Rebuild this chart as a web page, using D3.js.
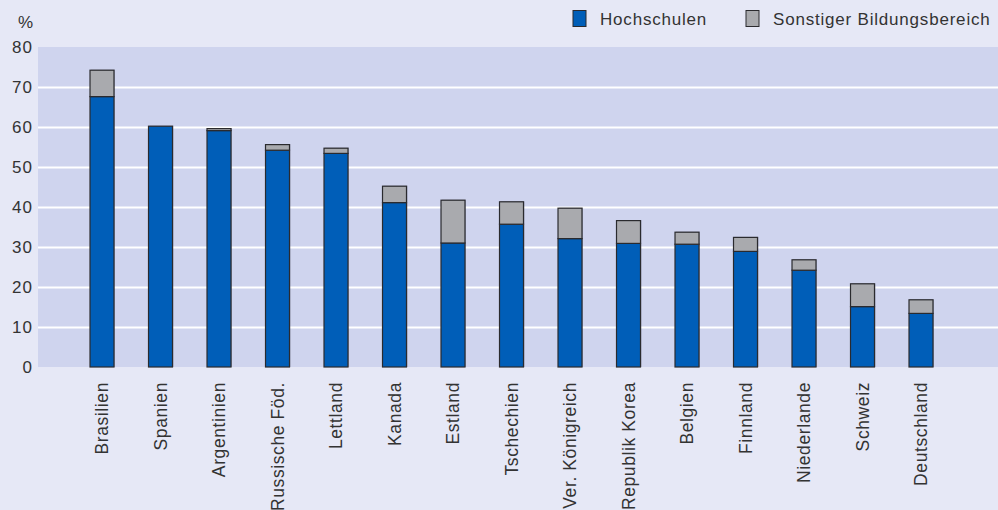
<!DOCTYPE html>
<html><head><meta charset="utf-8">
<script src="https://cdn.jsdelivr.net/npm/d3@7"></script>
<style>
html,body{margin:0;padding:0;background:#e6e8f6;}
svg{display:block;}
text{font-family:"Liberation Sans",Arial,sans-serif;fill:#333;}
</style></head>
<body>
<svg id="chart" width="998" height="510"></svg>
<script>
const categories = ["Brasilien","Spanien","Argentinien","Russische Föd.","Lettland","Kanada","Estland","Tschechien","Ver. Königreich","Republik Korea","Belgien","Finnland","Niederlande","Schweiz","Deutschland"];
const hochschulen = [67.6,60.2,59.1,54.2,53.4,41.1,31.0,35.7,32.1,30.9,30.7,28.9,24.2,15.1,13.4];
const sonstige = [6.6,0,0.5,1.4,1.3,4.1,10.7,5.6,7.6,5.7,3.0,3.5,2.6,5.7,3.4];
const yTicks = [0,10,20,30,40,50,60,70,80];
const seriesNames = ["Hochschulen","Sonstiger Bildungsbereich"];
const seriesColors = ["#005eb8","#a9aaae"];

const svg = d3.select("#chart");
const W = 998, H = 510;
const plot = {left:38, right:998, top:47, bottom:367};

svg.append("rect").attr("width",W).attr("height",H).attr("fill","#e6e8f6");
svg.append("rect").attr("x",plot.left).attr("y",plot.top)
  .attr("width",plot.right-plot.left).attr("height",plot.bottom-plot.top).attr("fill","#cfd4ee");

const y = d3.scaleLinear().domain([0,80]).range([plot.bottom, plot.top]);
const x = d3.scaleBand().domain(categories).range([72.75,950.25]).paddingInner(0.59).paddingOuter(0.295);

// gridlines
svg.append("g").selectAll("line").data(yTicks.filter(t=>t>0 && t<80)).join("line")
  .attr("x1",plot.left).attr("x2",plot.right)
  .attr("y1",d=>y(d)+0.5).attr("y2",d=>y(d)+0.5)
  .attr("stroke","#fff").attr("stroke-width",2);

// y axis
const yAxis = d3.axisLeft(y).tickValues(yTicks).tickSize(0).tickPadding(5);
const gy = svg.append("g").attr("transform",`translate(${plot.left},0)`).call(yAxis);
gy.select(".domain").remove();
gy.selectAll("text").attr("font-size",17).attr("letter-spacing","1px")
  .style("font-family","'Liberation Sans',Arial,sans-serif").attr("fill","#333").attr("dy","0.35em");

svg.append("text").attr("x",33).attr("y",28).attr("text-anchor","end").attr("font-size",17).text("%");

// stacked data
const data = categories.map((c,i)=>({cat:c, h:hochschulen[i], s:sonstige[i]}));
const stack = d3.stack().keys(["h","s"])(data);

const bars = svg.append("g");
// shadow
bars.selectAll("rect.shadow").data(data).join("rect").attr("class","shadow")
  .attr("x",d=>x(d.cat)+1).attr("y",d=>y(d.h+d.s)-0.5)
  .attr("width",x.bandwidth()).attr("height",d=>y(0)-y(d.h+d.s)+0.5)
  .attr("fill","rgba(60,60,80,0.3)");
stack.forEach((layer,li)=>{
  bars.append("g").selectAll("rect").data(layer.filter(d=>d[1]-d[0]>0)).join("rect")
    .attr("x",d=>x(d.data.cat)).attr("y",d=>y(d[1]))
    .attr("width",x.bandwidth()).attr("height",d=>y(d[0])-y(d[1]))
    .attr("fill",seriesColors[li]).attr("stroke","#2a2a2e").attr("stroke-width",1.2);
});

// x axis labels
const xAxis = d3.axisBottom(x).tickSize(0).tickPadding(0);
const gx = svg.append("g").attr("transform",`translate(0,${plot.bottom})`).call(xAxis);
gx.select(".domain").remove();
gx.selectAll("text").attr("font-size",17.5).attr("letter-spacing","0.6px")
  .style("font-family","'Liberation Sans',Arial,sans-serif").attr("fill","#333")
  .attr("text-anchor","end").attr("transform","rotate(-90)")
  .attr("x",-15).attr("y",0).attr("dy","0.35em");

// legend
const legendX = [573, 746];
seriesNames.forEach((n,i)=>{
  svg.append("rect").attr("x",legendX[i]).attr("y",10.5).attr("width",13).attr("height",16)
    .attr("fill",seriesColors[i]).attr("stroke","#2a2a2e").attr("stroke-width",1);
  svg.append("text").attr("x",legendX[i]+27).attr("y",24.5).attr("font-size",17)
    .attr("letter-spacing","0.8px").text(n);
});
</script>
</body></html>
